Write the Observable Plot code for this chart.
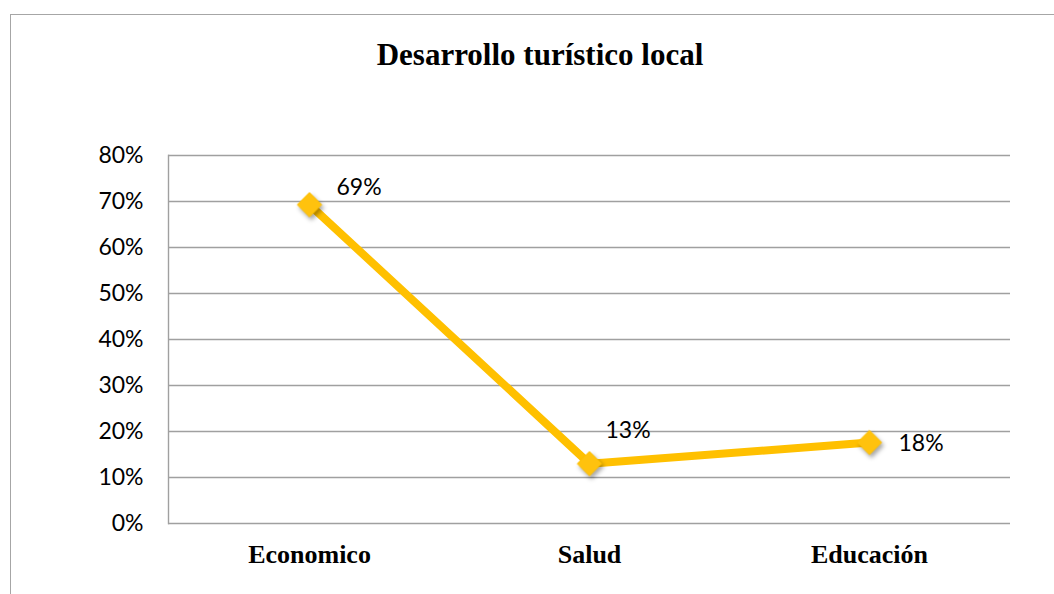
<!DOCTYPE html>
<html>
<head>
<meta charset="utf-8">
<script src="https://cdn.jsdelivr.net/npm/d3@7"></script>
<script src="https://cdn.jsdelivr.net/npm/@observablehq/plot@0.6"></script>
<style>
  html, body { margin: 0; padding: 0; background: #fff; }
  #wrap { position: relative; width: 1054px; height: 594px; overflow: hidden; background: #fff; }
  #border { position: absolute; left: 10px; top: 14px; width: 1100px; height: 700px; border: 1.5px solid #a6a6a6; box-sizing: border-box; }
  #title { position: absolute; left: 0; top: 37px; width: 1080px; text-align: center;
           font-family: "Liberation Serif", "Times New Roman", serif; font-weight: bold; font-size: 31px; color: #000; }
  #chart { position: absolute; left: 0; top: 0; }
  #chart g[aria-label="dot"] { filter: drop-shadow(2px 3px 2px rgba(0,0,0,0.35)); }
</style>
</head>
<body>
<div id="wrap">
  <div id="border"></div>
  <div id="chart"></div>
  <div id="title">Desarrollo turístico local</div>
</div>
<script>
const categories = ["Economico", "Salud", "Educación"];
const values = [0.693, 0.13, 0.176];
const valueLabels = ["69%", "13%", "18%"];
const yTicks = [0, 0.1, 0.2, 0.3, 0.4, 0.5, 0.6, 0.7, 0.8];

const data = categories.map((c, i) => ({category: c, value: values[i], label: valueLabels[i]}));

const labelOffsets = [[27, -17], [16, -33], [29, 1]];

const labelMarks = data.map((d, i) => Plot.text([d], {
  x: "category", y: "value", text: "label",
  textAnchor: "start", dx: labelOffsets[i][0], dy: labelOffsets[i][1],
  fontFamily: "Lato, 'Open Sans', sans-serif", fontSize: 23, fill: "#000"
}));

const chart = Plot.plot({
  width: 1054,
  height: 594,
  marginLeft: 168,
  marginRight: 44,
  marginTop: 155,
  marginBottom: 71,
  style: {background: "transparent", overflow: "visible"},
  x: {type: "point", domain: categories, padding: 0.5, axis: null, label: null},
  y: {domain: [0, 0.8], axis: null, label: null},
  marks: [
    Plot.ruleY(yTicks, {stroke: "#a0a0a0", strokeWidth: 1.4, strokeOpacity: 1}),
    Plot.frame({anchor: "left", stroke: "#a0a0a0", strokeWidth: 1.4, strokeOpacity: 1}),
    Plot.axisY(yTicks, {
      label: null, tickSize: 0, tickPadding: 25, tickFormat: d3.format(".0%"),
      fontFamily: "Lato, 'Open Sans', sans-serif", fontSize: 23, fill: "#000"
    }),
    Plot.axisX(categories, {
      label: null, tickSize: 0, tickPadding: 21,
      fontFamily: "'Liberation Serif', 'Times New Roman', serif", fontWeight: "bold", fontSize: 26, fill: "#000"
    }),
    Plot.line(data, {x: "category", y: "value", stroke: "#FFC000", strokeWidth: 8, strokeLinejoin: "round"}),
    Plot.dot(data, {x: "category", y: "value", symbol: "diamond2", r: 11, fill: "#FFC20E", stroke: "#FFC000", strokeWidth: 1}),
    ...labelMarks
  ]
});
document.getElementById("chart").appendChild(chart);
</script>
</body>
</html>
